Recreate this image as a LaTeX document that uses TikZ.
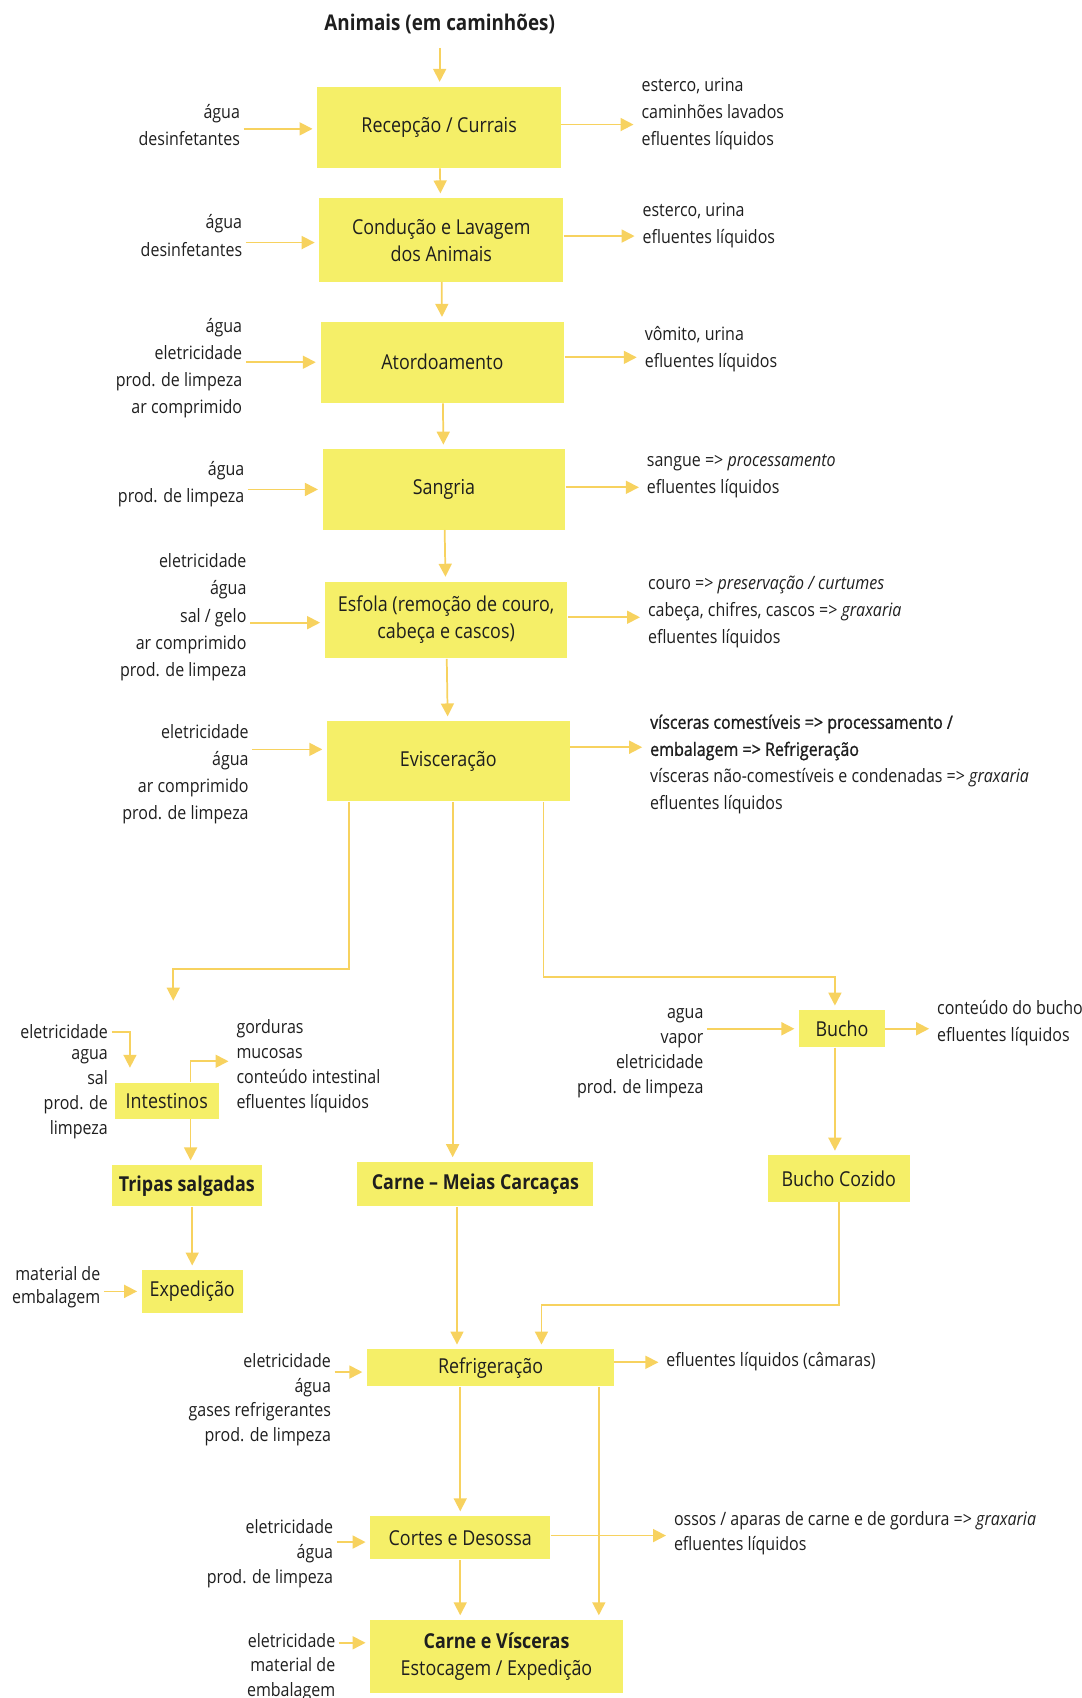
\documentclass[tikz,border=0pt]{standalone}
\usepackage{fontspec}
\setmainfont{Open Sans}[FakeStretch=0.87]
\newfontfamily\heavyfont{Open Sans}[FakeStretch=0.87,FakeBold=1.2]
\usetikzlibrary{arrows.meta}
\definecolor{boxfill}{RGB}{245,239,104}
\definecolor{flowcol}{RGB}{247,210,95}
\definecolor{ink}{RGB}{30,30,30}
\newcommand\upperfont{\fontsize{8.5}{12.5}\selectfont}
\newcommand\lowerfont{\fontsize{8.5}{11.5}\selectfont}

\begin{document}
\begin{tikzpicture}[x=0.5pt,y=-0.5pt,>={Triangle[length=6pt,width=6pt]},
    every node/.style={text=ink},
    box/.style={fill=boxfill,align=center,inner sep=0pt,font=\fontsize{9.5}{12.5}\selectfont},
    inp/.style={anchor=east,align=right,inner sep=1.5pt,font=\upperfont},
    outp/.style={anchor=west,align=left,inner sep=1.5pt,font=\upperfont},
    flow/.style={->,draw=flowcol,line width=0.8pt,shorten >=2pt}]
  \useasboundingbox (0,0) rectangle (999,1568);

  \node[font=\bfseries\fontsize{10}{12}\selectfont] (title) at (406,22) {Animais (em caminhões)};

  \node[box,minimum width=112.5pt,minimum height=37.5pt] (recep) at (405.5,117.5) {Recepção / Currais};
  \node[box,minimum width=112.5pt,minimum height=38.5pt] (cond) at (407.5,221.5) {Condução e Lavagem\\dos Animais};
  \node[box,minimum width=112.5pt,minimum height=37.5pt] (ator) at (408.5,334.5) {Atordoamento};
  \node[box,minimum width=112pt,minimum height=37pt] (sang) at (410,452) {Sangria};
  \node[box,minimum width=112pt,minimum height=35.5pt] (esfo) at (412,572.5) {Esfola (remoção de couro,\\cabeça e cascos)};
  \node[box,minimum width=112pt,minimum height=37pt] (evis) at (414,703) {Evisceração};
  \node[box,minimum width=48pt,minimum height=16.5pt] (intest) at (154,1016.5) {Intestinos};
  \node[box,minimum width=69.5pt,minimum height=19pt,font=\bfseries\fontsize{9.5}{12}\selectfont] (tripas) at (172.5,1095) {Tripas salgadas};
  \node[box,minimum width=46.5pt,minimum height=19.5pt] (exped) at (177.5,1192.5) {Expedição};
  \node[box,minimum width=109pt,minimum height=20.5pt,font=\bfseries\fontsize{9.5}{12}\selectfont] (carne) at (439,1093.5) {Carne – Meias Carcaças};
  \node[box,minimum width=39.5pt,minimum height=17pt] (bucho) at (777.5,950) {Bucho};
  \node[box,minimum width=65.5pt,minimum height=21.5pt] (bcoz) at (774.5,1088.5) {Bucho Cozido};
  \node[box,minimum width=114pt,minimum height=17pt] (refr) at (453,1263) {Refrigeração};
  \node[box,minimum width=83pt,minimum height=20pt] (corte) at (425,1420) {Cortes e Desossa};
  \node[box,minimum width=116.5pt,minimum height=33.5pt] (estoc) at (458.5,1529.5) {\textbf{Carne e Vísceras}\\Estocagem / Expedição};

  \node[inp] (inRecep) at (225,115.5) {água\\desinfetantes};
  \node[inp] (inCond) at (227,217.5) {água\\desinfetantes};
  \node[inp] (inAtor) at (227,340) {água\\eletricidade\\prod. de limpeza\\ar comprimido};
  \node[inp] (inSang) at (229,447) {água\\prod. de limpeza};
  \node[inp] (inEsfo) at (231,570) {eletricidade\\água\\sal / gelo\\ar comprimido\\prod. de limpeza};
  \node[inp] (inEvis) at (233,715) {eletricidade\\água\\ar comprimido\\prod. de limpeza};
  \node[inp,font=\lowerfont] (inIntestA) at (103,953) {eletricidade};
  \node[inp,font=\lowerfont] (inIntestB) at (103,1010.5) {agua\\sal\\prod. de\\limpeza};
  \node[inp,font=\lowerfont] (inBucho) at (653,972.5) {agua\\vapor\\eletricidade\\prod. de limpeza};
  \node[inp,font=\fontsize{8.5}{10.5}\selectfont] (inExped) at (96,1188.5) {material de\\embalagem};
  \node[inp,font=\lowerfont] (inRefr) at (309,1292.5) {eletricidade\\água\\gases refrigerantes\\prod. de limpeza};
  \node[inp,font=\lowerfont] (inCorte) at (311,1434.5) {eletricidade\\água\\prod. de limpeza};
  \node[inp,font=\lowerfont] (inEstoc) at (313,1539.5) {eletricidade\\material de\\embalagem};

  \node[outp] (outRecep) at (589,105) {esterco, urina\\caminhões lavados\\efluentes líquidos};
  \node[outp] (outCond) at (590,208.5) {esterco, urina\\efluentes líquidos};
  \node[outp] (outAtor) at (592,322.5) {vômito, urina\\efluentes líquidos};
  \node[outp] (outSang) at (594,440) {sangue => \textit{processamento}\\efluentes líquidos};
  \node[outp] (outEsfo) at (595,565.5) {couro => \textit{preservação / curtumes}\\cabeça, chifres, cascos => \textit{graxaria}\\efluentes líquidos};
  \node[outp] (outEvis) at (597,706) {{\heavyfont vísceras comestíveis => processamento /}\\{\heavyfont embalagem => Refrigeração}\\vísceras não-comestíveis e condenadas => \textit{graxaria}\\efluentes líquidos};
  \node[outp,font=\lowerfont] (outIntest) at (215,984.5) {gorduras\\mucosas\\conteúdo intestinal\\efluentes líquidos};
  \node[outp] (outBucho) at (862,944.5) {conteúdo do bucho\\efluentes líquidos};
  \node[outp] (outRefr) at (612,1257) {efluentes líquidos (câmaras)};
  \node[outp,font=\lowerfont] (outCorte) at (619,1416) {ossos / aparas de carne e de gordura => \textit{graxaria}\\efluentes líquidos};

  \coordinate (splitL) at (322,895);
  \coordinate (intIn) at (160,928);
  \coordinate (splitM) at (418,842);
  \coordinate (splitR) at (502,902);
  \coordinate (buchoX) at (771,0);
  \coordinate (intElec) at (120,990);
  \coordinate (intOut) at (176,980);
  \coordinate (carneX) at (422,0);
  \coordinate (bcRefr) at (500,1205);
  \coordinate (refrR) at (553,0);

  \draw[flow,shorten <=3pt] (title.south) -- (recep.north -| title.south);
  \draw[flow] (recep) -- (cond);
  \draw[flow] (cond) -- (ator);
  \draw[flow] (ator) -- (sang);
  \draw[flow] (sang) -- (esfo);
  \draw[flow] (esfo) -- (evis);

  \foreach \a/\b/\s in {inRecep/recep/-0.75pt,inCond/cond/-1.25pt,inAtor/ator/0pt,inSang/sang/0pt,
      inEsfo/esfo/-1.25pt,inEvis/evis/5.5pt,inBucho/bucho/0pt,inExped/exped/0pt,
      inRefr/refr/-2pt,inCorte/corte/-2pt,inEstoc/estoc/6.25pt}
    \draw[flow] ([yshift=\s]\b.west -| \a.east) -- ([yshift=\s]\b.west);

  \foreach \a/\b/\s in {outRecep/recep/1.25pt,outCond/cond/1.75pt,outAtor/ator/2.25pt,outSang/sang/1pt,
      outEsfo/esfo/1.25pt,outEvis/evis/6.5pt,outBucho/bucho/0pt,outRefr/refr/2.5pt,outCorte/corte/1pt}
    \draw[flow] ([yshift=\s]\b.east) -- ([yshift=\s]\b.east -| \a.west);

  \draw[flow] (evis.south -| splitL) -- (splitL) -| (intIn);
  \draw[flow] (inIntestA.east) -| (intElec);
  \draw[flow] (intest.north -| intOut) |- (outIntest.west |- intOut);
  \draw[flow] (intest.south -| intOut) -- (tripas.north -| intOut);
  \draw[flow] (tripas.south -| exped.north) -- (exped.north);

  \draw[flow] (evis.south -| splitM) -- (carne.north -| splitM);
  \draw[flow] (evis.south -| splitR) -- (splitR) -| (bucho.north -| buchoX);
  \draw[flow] (bucho.south -| buchoX) -- (bcoz.north -| buchoX);
  \draw[flow] (bcoz.south) |- (bcRefr) -- (refr.north -| bcRefr);
  \draw[flow] (carne.south -| carneX) -- (refr.north -| carneX);
  \draw[flow] (refr.south -| corte.north) -- (corte.north);
  \draw[flow] (refr.south -| refrR) -- (estoc.north -| refrR);
  \draw[flow] (corte.south) -- (estoc.north -| corte.south);
\end{tikzpicture}
\end{document}
